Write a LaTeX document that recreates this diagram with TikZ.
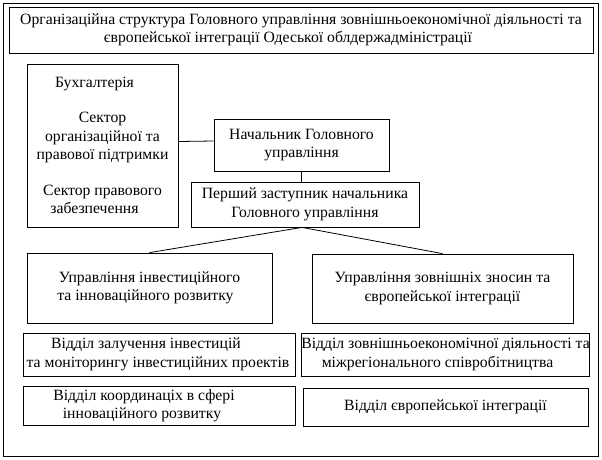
\documentclass[tikz,border=0pt]{standalone}
\usepackage{fontspec}
\setmainfont{Liberation Serif}
\usepackage{tikz}

\begin{document}
\begin{tikzpicture}[x=1pt,y=-1pt,
  box/.style={draw=black,line width=0.8pt,inner sep=0pt,align=center,
    font=\fontsize{15.7}{18.5}\selectfont},
  link/.style={draw=black,line width=0.8pt}]
\useasboundingbox (0,0) rectangle (602,459);

    \draw[link] (3,3) rectangle (598,456);

    \node[box,minimum width=584pt,minimum height=46pt] (title) at (301,30)
      {Організаційна структура Головного управління зовнішньоекономічної діяльності та\\
       європейської інтеграції Одеської облдержадміністрації\hspace*{26pt}};

    \node[box,minimum width=151pt,minimum height=163pt] (acct) at (102.5,145.5)
      {Бухгалтерія\hspace*{16pt}\\[17pt]
       Сектор\hspace*{16pt}\\організаційної та\hspace*{16pt}\\правової підтримки\hspace*{6pt}\\[17pt]
       Сектор правового\hspace*{8pt}\\забезпечення\hspace*{16pt}};

    \node[box,minimum width=175pt,minimum height=52pt] (head) at (301.5,145)
      {Начальник Головного\\управління};
    \node[box,minimum width=228pt,minimum height=45pt] (deputy) at (305,204.5)
      {Перший заступник начальника\\Головного управління};

    \node[box,minimum width=245pt,minimum height=70pt] (invest) at (149.5,288)
      {Управління інвестиційного\\та інноваційного розвитку\hspace*{8pt}};
    \node[box,minimum width=261pt,minimum height=69pt] (foreign) at (442.5,288.5)
      {Управління зовнішніх зносин та\\європейської інтеграції};

    \node[box,minimum width=272pt,minimum height=43pt] (attract) at (159,354.5)
      {Відділ залучення інвестицій\hspace*{26pt}\\та моніторингу інвестиційних проектів\hspace*{2pt}};
    \node[box,minimum width=285pt,minimum height=43pt] (econ) at (445.5,354.5)
      {Відділ зовнішньоекономічної діяльності та\\міжрегіонального співробітництва\hspace*{16pt}};

    \node[box,minimum width=272pt,minimum height=39pt] (coord) at (159,405.5)
      {Відділ координаціх в сфері\hspace*{30pt}\\інноваційного розвитку\hspace*{34pt}};
    \node[box,minimum width=285pt,minimum height=38pt] (europe) at (445.5,407)
      {Відділ європейської інтеграції};

    \draw[link] ([yshift=4pt]acct.east) -- ([yshift=4pt]head.west);
    \draw[link] (head.south) -- (head.south |- deputy.north);
    \coordinate (fork) at ([xshift=-3pt]deputy.south);
    \draw[link] (fork) -- (invest.north);
    \draw[link] (fork) -- (foreign.north);

\end{tikzpicture}
\end{document}
